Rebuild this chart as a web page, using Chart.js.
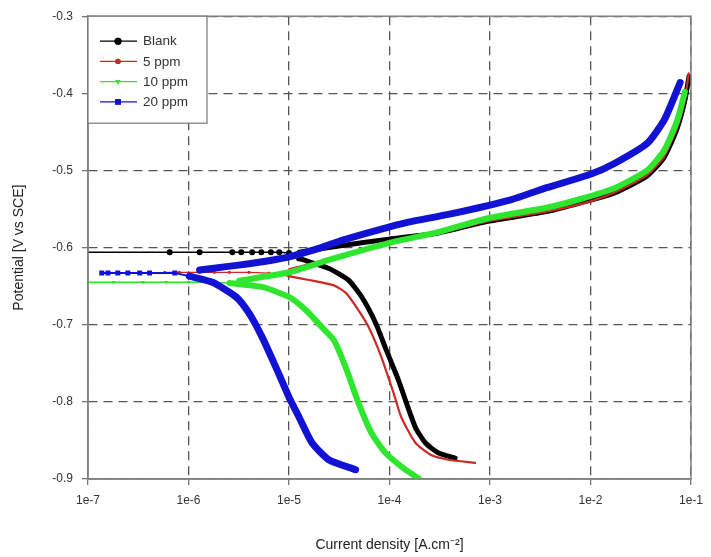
<!DOCTYPE html>
<html>
<head>
<meta charset="utf-8">
<script src="https://cdn.jsdelivr.net/npm/chart.js@4.4.0/dist/chart.umd.min.js"></script>
<style>
  html, body { margin: 0; padding: 0; background: #fff; }
  canvas { display: block; }
</style>
</head>
<body>
<canvas id="tafel" width="711" height="557"></canvas>
<script>
// current density (A/cm2) and potential (V vs SCE), split into cathodic branch,
// the noisy part around Ecorr, and the anodic branch
const blankCathI = [4.5e-4, 3.05e-4, 2.27e-4, 1.81e-4, 1.47e-4, 1.23e-4, 9.3e-5, 7.3e-5, 5.3e-5, 3.9e-5, 2.5e-5, 1.26e-5];
const blankCathE = [-0.873, -0.866, -0.853, -0.833, -0.801, -0.772, -0.733, -0.698, -0.664, -0.642, -0.627, -0.614];
const blankRestI = [1.26e-5, 1.0e-5, 8.0e-6, 6.6e-6, 5.3e-6, 4.3e-6, 3.35e-6, 2.73e-6, 1.29e-6, 6.5e-7, 5e-8];
const blankRestE = [-0.614, -0.607, -0.606, -0.606, -0.606, -0.606, -0.606, -0.606, -0.606, -0.606, -0.606];
const blankAnodI = [1.26e-5, 3.13e-5, 9.8e-5, 3.05e-4, 9.5e-4, 3.75e-3, 7.96e-3, 1.73e-2, 3.66e-2, 5.4e-2, 7.3e-2, 8.7e-2, 9.55e-2];
const blankAnodE = [-0.606, -0.598, -0.589, -0.581, -0.566, -0.553, -0.542, -0.529, -0.507, -0.483, -0.445, -0.409, -0.378];

const ppm5CathI = [7.1e-4, 3.84e-4, 2.6e-4, 1.81e-4, 1.31e-4, 1.10e-4, 8.3e-5, 6.2e-5, 4.9e-5, 3.7e-5, 2.8e-5, 1.58e-5, 1.0e-5];
const ppm5CathE = [-0.879, -0.875, -0.869, -0.853, -0.820, -0.789, -0.742, -0.703, -0.681, -0.659, -0.649, -0.642, -0.637];
const ppm5RestI = [1.0e-5, 6.3e-6, 4.0e-6, 2.55e-6, 1.81e-6, 1.29e-6, 8.1e-7, 5.8e-7];
const ppm5RestE = [-0.637, -0.633, -0.632, -0.632, -0.632, -0.632, -0.632, -0.632];
const ppm5AnodI = [1.0e-5, 2.5e-5, 6.0e-5, 1.5e-4, 3.05e-4, 9.5e-4, 3.75e-3, 1.0e-2, 1.85e-2, 3.66e-2, 5.4e-2, 7.3e-2, 8.7e-2, 9.5e-2];
const ppm5AnodE = [-0.628, -0.615, -0.600, -0.589, -0.581, -0.566, -0.553, -0.540, -0.527, -0.506, -0.482, -0.444, -0.408, -0.374];

const ppm10CathI = [1.94e-4, 1.44e-4, 9.1e-5, 6.6e-5, 4.9e-5, 3.66e-5, 2.8e-5, 2.12e-5, 1.47e-5, 1.0e-5, 5.4e-6, 2.55e-6];
const ppm10CathE = [-0.899, -0.888, -0.866, -0.840, -0.801, -0.755, -0.720, -0.703, -0.681, -0.664, -0.651, -0.646];
const ppm10RestI = [2.55e-6, 1.6e-6, 1.0e-6, 6.0e-7, 3.5e-7, 1.8e-7, 5e-8];
const ppm10RestE = [-0.646, -0.645, -0.645, -0.645, -0.645, -0.645, -0.645];
const ppm10AnodI = [3.2e-6, 1.0e-5, 2.49e-5, 5.5e-5, 1.15e-4, 3.05e-4, 9.5e-4, 3.75e-3, 7.96e-3, 1.73e-2, 3.66e-2, 5.4e-2, 7.3e-2, 8.7e-2];
const ppm10AnodE = [-0.643, -0.632, -0.616, -0.603, -0.592, -0.580, -0.562, -0.548, -0.537, -0.523, -0.500, -0.474, -0.435, -0.398];

const ppm20CathI = [4.6e-5, 2.49e-5, 1.69e-5, 1.26e-5, 1.0e-5, 7.4e-6, 5.4e-6, 4.0e-6, 2.98e-6, 1.73e-6, 1.02e-6];
const ppm20CathE = [-0.888, -0.875, -0.853, -0.820, -0.794, -0.755, -0.716, -0.685, -0.664, -0.645, -0.637];
const ppm20RestI = [1.02e-6, 7.3e-7, 4.1e-7, 3.27e-7, 2.49e-7, 1.98e-7, 1.58e-7, 1.37e-7];
const ppm20RestE = [-0.637, -0.633, -0.633, -0.633, -0.633, -0.633, -0.633, -0.633];
const ppm20AnodI = [1.29e-6, 2.27e-6, 4.0e-6, 6.3e-6, 1.0e-5, 1.98e-5, 3.5e-5, 7.8e-5, 1.54e-4, 3.84e-4, 1.61e-3, 3.75e-3, 1.0e-2, 1.73e-2, 3.66e-2, 5.4e-2, 6.6e-2, 7.8e-2];
const ppm20AnodE = [-0.629, -0.625, -0.621, -0.617, -0.612, -0.601, -0.590, -0.577, -0.567, -0.557, -0.538, -0.522, -0.505, -0.491, -0.465, -0.435, -0.409, -0.386];

const xTicks = [1e-7, 1e-6, 1e-5, 1e-4, 1e-3, 1e-2, 1e-1];
const yTicks = [-0.9, -0.8, -0.7, -0.6, -0.5, -0.4, -0.3];

const FONT = '"Liberation Sans", Arial, sans-serif';

const pts = (xs, ys) => xs.map((x, i) => ({x: x, y: ys[i]}));

// first entry is drawn on top
const series = [
  {label: '20 ppm', color: '#1212d4', width: 7, thin: 2, style: 'rect', rot: 0, mark: 3.5, thickMark: 3.5,
   cath: pts(ppm20CathI, ppm20CathE), rest: pts(ppm20RestI, ppm20RestE), anod: pts(ppm20AnodI, ppm20AnodE)},
  {label: '10 ppm', color: '#2fe62f', width: 6, thin: 1.5, style: 'triangle', rot: 180, mark: 2.5, thickMark: 0,
   cath: pts(ppm10CathI, ppm10CathE), rest: pts(ppm10RestI, ppm10RestE), anod: pts(ppm10AnodI, ppm10AnodE)},
  {label: '5 ppm', color: '#cc2a26', width: 2.2, thin: 1.2, style: 'circle', rot: 0, mark: 1.6, thickMark: 0,
   cath: pts(ppm5CathI, ppm5CathE), rest: pts(ppm5RestI, ppm5RestE), anod: pts(ppm5AnodI, ppm5AnodE)},
  {label: 'Blank', color: '#000000', width: 5, thin: 1.5, style: 'circle', rot: 0, mark: 3, thickMark: 0,
   cath: pts(blankCathI, blankCathE), rest: pts(blankRestI, blankRestE), anod: pts(blankAnodI, blankAnodE)}
];

const datasets = [];
series.forEach(s => {
  const base = {
    borderColor: s.color, backgroundColor: s.color, pointBackgroundColor: s.color,
    pointBorderWidth: 0, pointStyle: s.style, rotation: s.rot, tension: 0.2,
    borderJoinStyle: 'round', borderCapStyle: 'round'
  };
  datasets.push(Object.assign({}, base, {data: s.anod, borderWidth: s.width, pointRadius: s.thickMark}));
  datasets.push(Object.assign({}, base, {data: s.cath, borderWidth: s.width, pointRadius: s.thickMark}));
  datasets.push(Object.assign({}, base, {data: s.rest, borderWidth: s.thin, pointRadius: s.mark, tension: 0}));
});

// plot frame plus the boxed legend in the upper left corner
const frameAndLegend = {
  id: 'frameAndLegend',
  afterDatasetsDraw(chart) {
    const {ctx, chartArea: a} = chart;
    ctx.save();
    ctx.strokeStyle = '#808080';
    ctx.lineWidth = 1.5;
    ctx.strokeRect(a.left, a.top, a.right - a.left, a.bottom - a.top);

    const bx = a.left, by = a.top, bw = 119, bh = 107;
    ctx.fillStyle = '#fff';
    ctx.fillRect(bx, by, bw, bh);
    ctx.strokeStyle = '#777';
    ctx.lineWidth = 1.2;
    ctx.strokeRect(bx, by, bw, bh);

    const rows = series.slice().reverse();
    rows.forEach((s, i) => {
      const y = by + 25 + i * 20.2;
      ctx.strokeStyle = s.color;
      ctx.lineWidth = 1.2;
      ctx.beginPath();
      ctx.moveTo(bx + 12, y);
      ctx.lineTo(bx + 49, y);
      ctx.stroke();
      ctx.fillStyle = s.color;
      Chart.helpers.drawPoint(ctx, {pointStyle: s.style, radius: Math.max(s.mark, 2.2) + 0.5, rotation: s.rot, borderWidth: 0}, bx + 30, y);
      ctx.fill();
      ctx.fillStyle = '#333';
      ctx.font = '13.5px ' + FONT;
      ctx.textBaseline = 'middle';
      ctx.fillText(s.label, bx + 55, y + 0.5);
    });
    ctx.restore();
  }
};

new Chart(document.getElementById('tafel'), {
  type: 'line',
  data: {datasets: datasets},
  options: {
    responsive: false,
    animation: false,
    layout: {padding: {top: 16, right: 17, left: 0, bottom: 0}},
    plugins: {legend: {display: false}, tooltip: {enabled: false}},
    scales: {
      x: {
        type: 'logarithmic',
        min: 1e-7,
        max: 1e-1,
        afterBuildTicks: scale => { scale.ticks = xTicks.map(v => ({value: v})); },
        afterFit: scale => { scale.height = 78; },
        ticks: {
          autoSkip: false, maxRotation: 0, padding: 8, color: '#333',
          font: {family: FONT, size: 12},
          callback: v => '1e' + Math.round(Math.log10(v))
        },
        grid: {color: '#555', lineWidth: 1.3, tickLength: 6, tickColor: '#777'},
        border: {display: true, color: '#808080', width: 1.5, dash: [9, 6]},
        title: {
          display: true, text: 'Current density [A.cm\u207B\u00B2]', color: '#222',
          font: {family: FONT, size: 14}, padding: {top: 0, bottom: 3}
        }
      },
      y: {
        type: 'linear',
        min: -0.9,
        max: -0.3,
        afterBuildTicks: scale => { scale.ticks = yTicks.map(v => ({value: v})); },
        afterFit: scale => { scale.width = 88; },
        ticks: {
          padding: 9, color: '#333',
          font: {family: FONT, size: 12},
          callback: v => v.toFixed(1)
        },
        grid: {color: '#555', lineWidth: 1.3, tickLength: 6, tickColor: '#777'},
        border: {display: true, color: '#808080', width: 1.5, dash: [9, 6]},
        title: {
          display: true, text: 'Potential [V vs SCE]', color: '#222',
          font: {family: FONT, size: 14}, padding: {top: 11, bottom: 0}
        }
      }
    }
  },
  plugins: [frameAndLegend]
});
</script>
</body>
</html>
